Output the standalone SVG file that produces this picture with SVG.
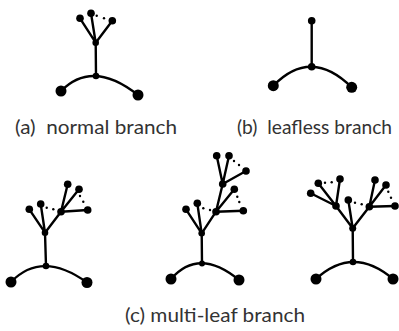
<svg xmlns="http://www.w3.org/2000/svg" width="399" height="331" viewBox="0 0 399 331">
  <style>
    .edge { fill: none; stroke: #000; stroke-width: 2.4; stroke-linecap: round; }
    .end { fill: #000; }
    .node { fill: #000; }
    .leaf { fill: #000; }
    .gap { fill: #000; }
    .cap { font-family: Lato, "Open Sans", sans-serif; font-size: 20px; fill: #333; }
  </style>
  <rect width="399" height="331" fill="#fff"/>

  <!-- (a) normal branch -->
  <g id="connectors-a">
    <path class="edge" d="M61,91 Q92.5,59 138,95"/>
    <path class="edge" d="M96,76 L95.7,42.7"/>
    <path class="edge" d="M95.7,42.7 L80,18.3 M95.7,42.7 L91,13.3 M95.7,42.7 L112.3,20.7"/>
  </g>
  <g id="tree-a">
    <circle class="end" cx="61" cy="91" r="5.5"/>
    <circle class="end" cx="138" cy="95" r="5.5"/>
    <circle class="node" cx="96" cy="76" r="3.3"/>
    <circle class="node" cx="95.7" cy="42.7" r="3.3"/>
    <circle class="leaf" cx="80" cy="18.3" r="3.8"/>
    <circle class="leaf" cx="91" cy="13.3" r="3.8"/>
    <circle class="leaf" cx="112.3" cy="20.7" r="3.8"/>
    <circle class="gap" cx="96.7" cy="15.7" r="1.2"/>
    <circle class="gap" cx="104" cy="18.3" r="1.2"/>
  </g>
  <text class="cap" x="15" y="134" textLength="162" lengthAdjust="spacingAndGlyphs" xml:space="preserve">(a)  normal branch</text>

  <!-- (b) leafless branch -->
  <g id="connectors-b">
    <path class="edge" d="M273.3,85.7 Q310.9,46.9 351.7,87.3"/>
    <path class="edge" d="M311.7,66.7 L311.7,20.7"/>
  </g>
  <g id="tree-b">
    <circle class="end" cx="273.3" cy="85.7" r="5.5"/>
    <circle class="end" cx="351.7" cy="87.3" r="5.5"/>
    <circle class="node" cx="311.7" cy="66.7" r="3.8"/>
    <circle class="leaf" cx="311.7" cy="20.7" r="3.8"/>
  </g>
  <text class="cap" x="237" y="134" textLength="155" lengthAdjust="spacingAndGlyphs" xml:space="preserve">(b)  leafless branch</text>

  <!-- (c) multi-leaf branch, first tree -->
  <g id="connectors-c1">
    <path class="edge" d="M11,282 Q42,250 87,282.5"/>
    <path class="edge" d="M46,266 L45,232.7"/>
    <path class="edge" d="M45,232.7 L29.3,209.3 M45,232.7 L40.7,204 M45,232.7 L61,211.7"/>
    <path class="edge" d="M61,211.7 L67.7,184.3 M61,211.7 L79,189.3 M61,211.7 L87.7,210"/>
  </g>
  <g id="tree-c1">
    <circle class="end" cx="11" cy="282" r="5.5"/>
    <circle class="end" cx="87" cy="282.5" r="5.5"/>
    <circle class="node" cx="46" cy="266" r="3.3"/>
    <circle class="node" cx="45" cy="232.7" r="3.3"/>
    <circle class="node" cx="61" cy="211.7" r="3.8"/>
    <circle class="leaf" cx="29.3" cy="209.3" r="3.8"/>
    <circle class="leaf" cx="40.7" cy="204" r="3.8"/>
    <circle class="leaf" cx="67.7" cy="184.3" r="3.8"/>
    <circle class="leaf" cx="79" cy="189.3" r="3.8"/>
    <circle class="leaf" cx="87.7" cy="210" r="3.8"/>
    <circle class="gap" cx="46.7" cy="207.7" r="1.2"/>
    <circle class="gap" cx="53.3" cy="209.3" r="1.2"/>
    <circle class="gap" cx="80" cy="196" r="1.2"/>
    <circle class="gap" cx="83.3" cy="201.7" r="1.2"/>
  </g>

  <!-- (c) multi-leaf branch, second tree -->
  <g id="connectors-c2">
    <path class="edge" d="M171,279 Q199,247 239,280"/>
    <path class="edge" d="M202,263.5 L201.7,233.3"/>
    <path class="edge" d="M201.7,233.3 L186,209.3 M201.7,233.3 L197.3,203.3 M201.7,233.3 L216,211.7"/>
    <path class="edge" d="M216,211.7 L234.3,189.3 M216,211.7 L243.3,210.7 M216,211.7 L222.7,184"/>
    <path class="edge" d="M222.7,184 L216.7,155.7 M222.7,184 L229,155.7 M222.7,184 L246,171"/>
  </g>
  <g id="tree-c2">
    <circle class="end" cx="171" cy="279" r="5.5"/>
    <circle class="end" cx="239" cy="280" r="5.5"/>
    <circle class="node" cx="202" cy="263.5" r="3"/>
    <circle class="node" cx="201.7" cy="233.3" r="3.3"/>
    <circle class="node" cx="216" cy="211.7" r="3.8"/>
    <circle class="node" cx="222.7" cy="184" r="3.8"/>
    <circle class="leaf" cx="186" cy="209.3" r="3.8"/>
    <circle class="leaf" cx="197.3" cy="203.3" r="3.8"/>
    <circle class="leaf" cx="234.3" cy="189.3" r="3.8"/>
    <circle class="leaf" cx="243.3" cy="210.7" r="3.8"/>
    <circle class="leaf" cx="216.7" cy="155.7" r="3.8"/>
    <circle class="leaf" cx="229" cy="155.7" r="3.8"/>
    <circle class="leaf" cx="246" cy="171" r="3.8"/>
    <circle class="gap" cx="203.3" cy="208.3" r="1.2"/>
    <circle class="gap" cx="210" cy="210" r="1.2"/>
    <circle class="gap" cx="237.3" cy="196.7" r="1.2"/>
    <circle class="gap" cx="239.3" cy="202" r="1.2"/>
    <circle class="gap" cx="234" cy="161" r="1.2"/>
    <circle class="gap" cx="239" cy="165" r="1.2"/>
  </g>

  <!-- (c) multi-leaf branch, third tree -->
  <g id="connectors-c3">
    <path class="edge" d="M316,279 Q353,245 393,279"/>
    <path class="edge" d="M353,262 L352.7,228.3"/>
    <path class="edge" d="M352.7,228.3 L336,206 M352.7,228.3 L348.3,200 M352.7,228.3 L369.3,206.7"/>
    <path class="edge" d="M336,206 L310.7,193.3 M336,206 L318.3,183.3 M336,206 L340,179"/>
    <path class="edge" d="M369.3,206.7 L375,180 M369.3,206.7 L386,185 M369.3,206.7 L395,206"/>
  </g>
  <g id="tree-c3">
    <circle class="end" cx="316" cy="279" r="5.5"/>
    <circle class="end" cx="393" cy="279" r="5.5"/>
    <circle class="node" cx="353" cy="262" r="3.3"/>
    <circle class="node" cx="352.7" cy="228.3" r="3.5"/>
    <circle class="node" cx="336" cy="206" r="3.8"/>
    <circle class="node" cx="369.3" cy="206.7" r="3.8"/>
    <circle class="leaf" cx="348.3" cy="200" r="3.8"/>
    <circle class="leaf" cx="310.7" cy="193.3" r="3.8"/>
    <circle class="leaf" cx="318.3" cy="183.3" r="3.8"/>
    <circle class="leaf" cx="340" cy="179" r="3.8"/>
    <circle class="leaf" cx="375" cy="180" r="3.8"/>
    <circle class="leaf" cx="386" cy="185" r="3.8"/>
    <circle class="leaf" cx="395" cy="206" r="3.8"/>
    <circle class="gap" cx="355" cy="202.7" r="1.2"/>
    <circle class="gap" cx="361.7" cy="204.3" r="1.2"/>
    <circle class="gap" cx="325" cy="182.7" r="1.2"/>
    <circle class="gap" cx="331.7" cy="182.3" r="1.2"/>
    <circle class="gap" cx="388.3" cy="191.7" r="1.2"/>
    <circle class="gap" cx="391" cy="197.7" r="1.2"/>
  </g>
  <text class="cap" x="125" y="322" textLength="180" lengthAdjust="spacingAndGlyphs">(c) multi-leaf branch</text>
</svg>
